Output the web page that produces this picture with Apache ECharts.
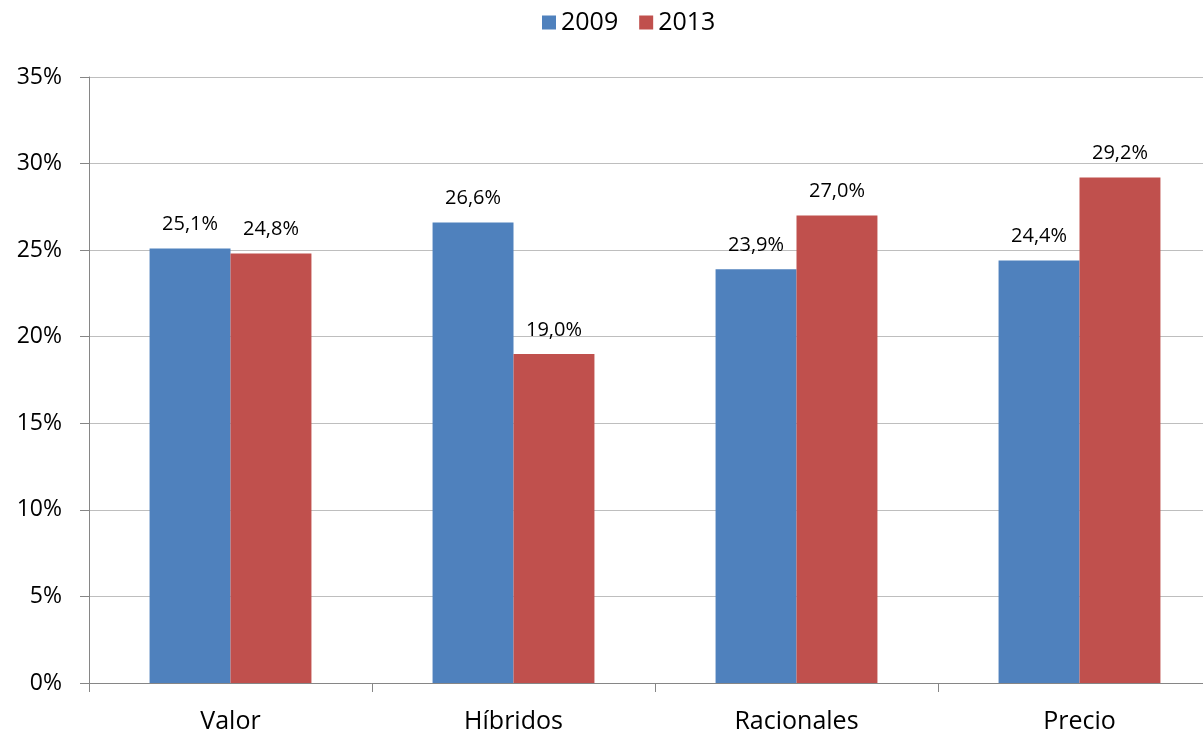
<!DOCTYPE html>
<html>
<head>
<meta charset="utf-8">
<script src="https://cdn.jsdelivr.net/npm/echarts@6/dist/echarts.min.js"></script>
<style>
  html, body { margin: 0; padding: 0; background: #fff; overflow: hidden; }
  /* plot area runs past the right edge of the window, as in the source sheet */
  #chart { width: 1221px; height: 736px; }
</style>
</head>
<body>
<div id="chart"></div>
<script>
// Segment shares by category, 2009 vs 2013
const categories = ['Valor', 'Híbridos', 'Racionales', 'Precio'];
const series2009 = [25.1, 26.6, 23.9, 24.4];
const series2013 = [24.8, 19.0, 27.0, 29.2];
const yTicks = { min: 0, max: 35, interval: 5 };

const FONT = 'Open Sans';
const fmtPct = v => v.toFixed(1).replace('.', ',') + '%';

const chart = echarts.init(document.getElementById('chart'), null, { renderer: 'canvas' });

const labelStyle = {
  show: true,
  position: 'top',
  distance: 14,
  fontFamily: FONT,
  fontSize: 20,
  color: '#000',
  formatter: p => fmtPct(p.value)
};

chart.setOption({
  animation: false,
  textStyle: { fontFamily: FONT },
  legend: {
    top: 5,
    left: 537,
    itemWidth: 14,
    itemHeight: 14,
    itemGap: 21,
    icon: 'rect',
    textStyle: { fontFamily: FONT, fontSize: 25, color: '#000', padding: [0, 0, 0, 0] },
    data: ['2009', '2013']
  },
  grid: { left: 89, top: 77, right: 0, bottom: 53, containLabel: false },
  xAxis: {
    type: 'category',
    data: categories,
    axisLine: { lineStyle: { color: '#868686', width: 1 } },
    axisTick: { show: true, length: 9, lineStyle: { color: '#868686' } },
    axisLabel: { fontFamily: FONT, fontSize: 25, color: '#000', margin: 26 }
  },
  yAxis: {
    type: 'value',
    min: yTicks.min,
    max: yTicks.max,
    interval: yTicks.interval,
    axisLine: { show: true, lineStyle: { color: '#868686', width: 1 } },
    axisTick: { show: true, length: 9, lineStyle: { color: '#868686' } },
    splitLine: { lineStyle: { color: '#BEBEBE', width: 1 } },
    axisLabel: { fontFamily: FONT, fontSize: 23, color: '#000', margin: 27, formatter: '{value}%' }
  },
  series: [
    {
      name: '2009',
      type: 'bar',
      data: series2009,
      barGap: '0%',
      barCategoryGap: '42.8%',
      itemStyle: { color: '#4F81BD' },
      label: labelStyle
    },
    {
      name: '2013',
      type: 'bar',
      data: series2013,
      barGap: '0%',
      barCategoryGap: '42.8%',
      itemStyle: { color: '#C0504D' },
      label: labelStyle
    }
  ]
});
</script>
</body>
</html>
